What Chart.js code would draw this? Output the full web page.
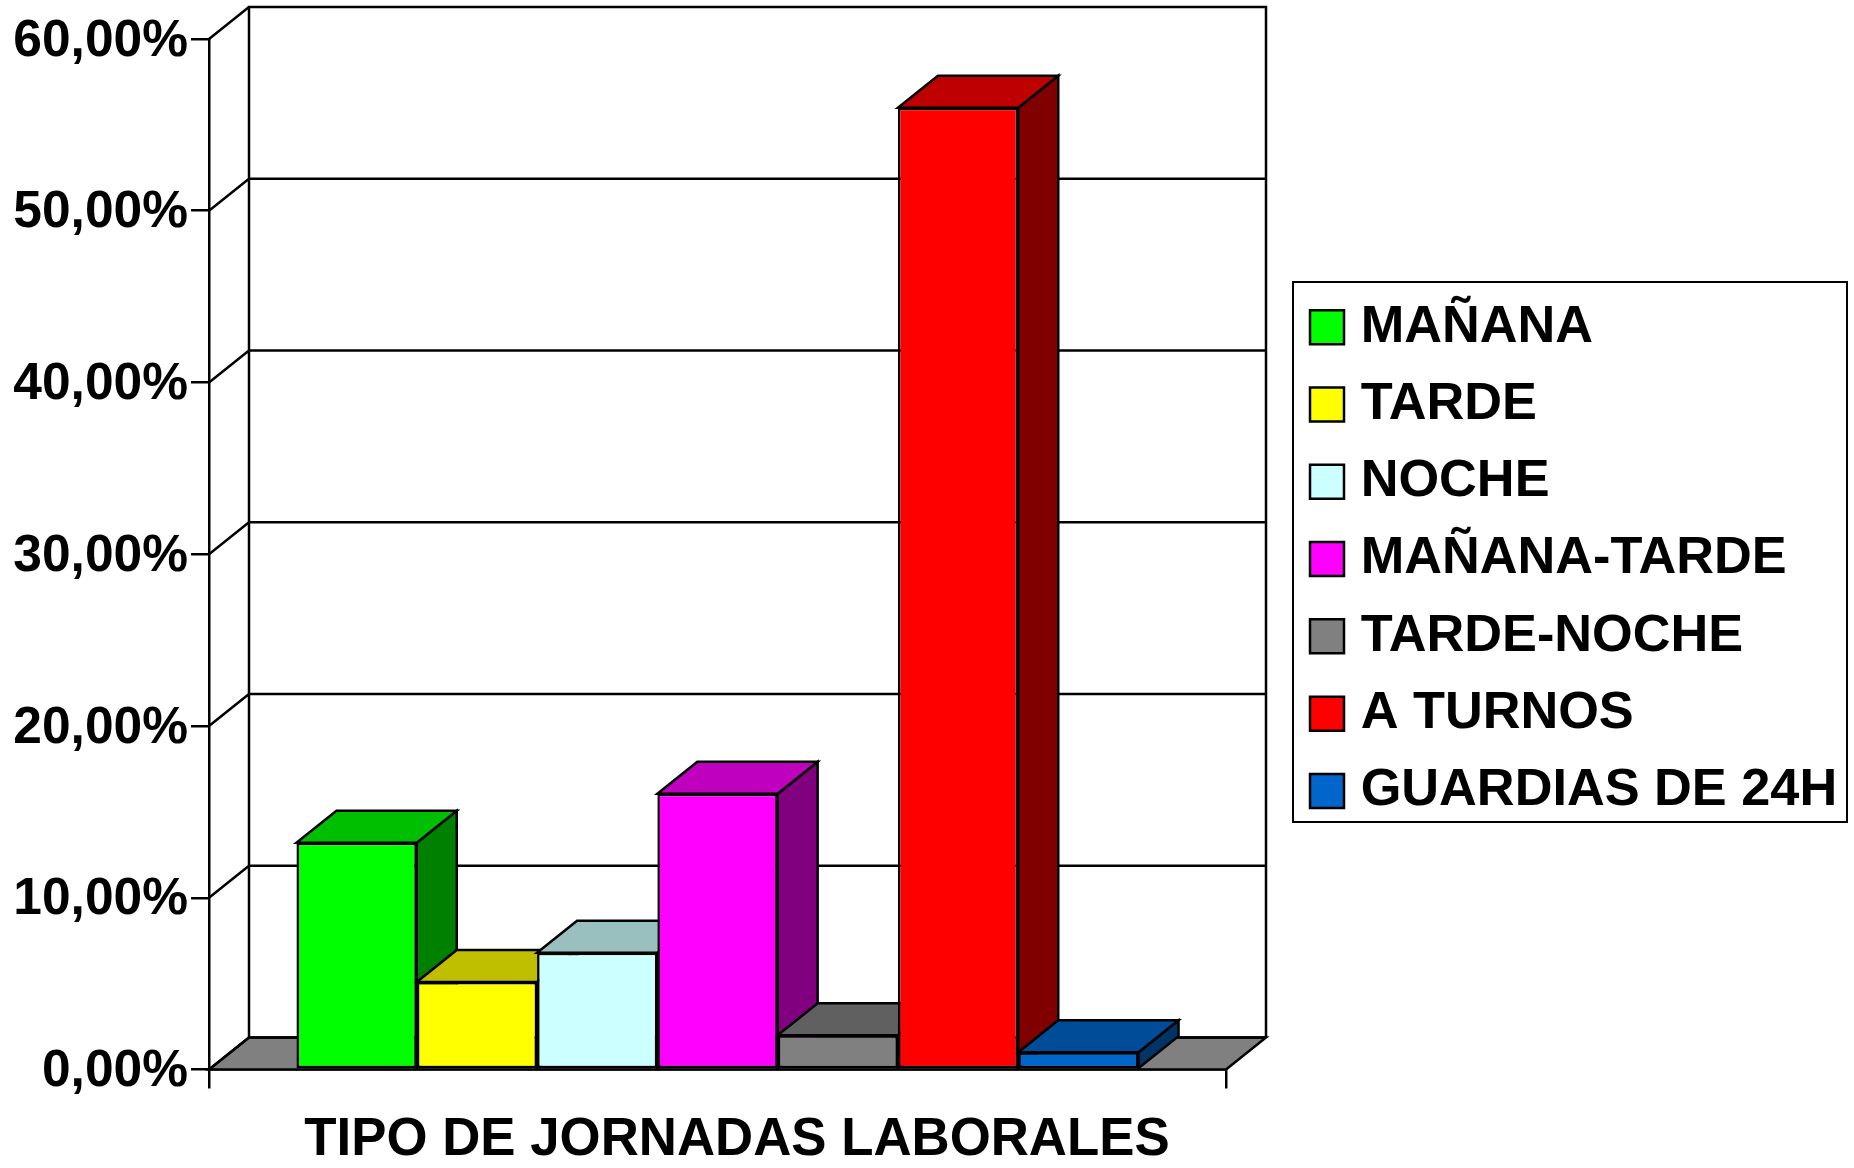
<!DOCTYPE html>
<html>
<head>
<meta charset="utf-8">
<title>Tipo de jornadas laborales</title>
<script src="https://cdn.jsdelivr.net/npm/chart.js@4"></script>
<style>
  html, body { margin: 0; padding: 0; background: #ffffff; }
  canvas { display: block; }
</style>
</head>
<body>
<canvas id="mainChart" width="1854" height="1168"></canvas>
<script>
// Values
const categories  = ['TIPO DE JORNADAS LABORALES'];
const seriesNames = ['MAÑANA', 'TARDE', 'NOCHE', 'MAÑANA-TARDE', 'TARDE-NOCHE', 'A TURNOS', 'GUARDIAS DE 24H'];
const seriesValues = [13.2, 5.1, 6.8, 16.05, 2.0, 56.0, 1.0];
const yTicks = [0, 10, 20, 30, 40, 50, 60];

// Face colours of each bar: front, top, side
const frontColors = ['#00ff00', '#ffff00', '#ccffff', '#ff00ff', '#808080', '#ff0000', '#0066cc'];
const topColors   = ['#00bf00', '#bfbf00', '#99bfbf', '#bf00bf', '#606060', '#bf0000', '#004c99'];
const sideColors  = ['#008000', '#808000', '#668080', '#800080', '#404040', '#800000', '#003366'];

const FONT  = 'Liberation Sans';
const DEPTH = { x: 40, y: 32 };
const LINE  = 2.5;

function fillFace(ctx, pts, color) {
  ctx.beginPath();
  ctx.moveTo(pts[0][0], pts[0][1]);
  pts.slice(1).forEach(p => ctx.lineTo(p[0], p[1]));
  ctx.closePath();
  ctx.fillStyle = color;
  ctx.fill();
  ctx.stroke();
}

// Floor, back wall and the 3D faces; the front faces come from Chart.js itself
const depthPlugin = {
  id: 'depth',
  afterLayout(chart) {
    // the legend sits outside the plot, at the right of the page
    const legend = chart.legend;
    const pad = legend.options.labels.padding;
    legend.left = 1319.5 - pad;
    legend.right = legend.left + legend.width;
    legend.top = 301 - pad;
    legend.bottom = legend.top + legend.height;
  },
  beforeDatasetsDraw(chart) {
    const { ctx, chartArea: a, scales: { y } } = chart;
    ctx.save();
    ctx.strokeStyle = '#000000';
    ctx.lineWidth = LINE;
    ctx.lineJoin = 'miter';

    // floor
    fillFace(ctx, [
      [a.left, a.bottom], [a.left + DEPTH.x, a.bottom - DEPTH.y],
      [a.right + DEPTH.x, a.bottom - DEPTH.y], [a.right, a.bottom],
    ], '#808080');

    // back wall outline, grid lines and their diagonals back to the axis
    ctx.beginPath();
    ctx.moveTo(a.left + DEPTH.x, a.bottom - DEPTH.y);
    ctx.lineTo(a.left + DEPTH.x, a.top - DEPTH.y);
    ctx.lineTo(a.right + DEPTH.x, a.top - DEPTH.y);
    ctx.lineTo(a.right + DEPTH.x, a.bottom - DEPTH.y);
    yTicks.forEach(v => {
      const py = y.getPixelForValue(v);
      ctx.moveTo(a.left, py);
      ctx.lineTo(a.left + DEPTH.x, py - DEPTH.y);
      ctx.lineTo(a.right + DEPTH.x, py - DEPTH.y);
    });
    ctx.stroke();

    // side and top of every bar, left to right so nearer bars cover the previous ones
    seriesNames.forEach((name, i) => {
      const bar = chart.getDatasetMeta(i).data[0];
      const l = bar.x - bar.width / 2;
      const r = bar.x + bar.width / 2;
      fillFace(ctx, [
        [r, bar.y], [r + DEPTH.x, bar.y - DEPTH.y],
        [r + DEPTH.x, bar.base - DEPTH.y], [r, bar.base],
      ], sideColors[i]);
      fillFace(ctx, [
        [l, bar.y], [l + DEPTH.x, bar.y - DEPTH.y],
        [r + DEPTH.x, bar.y - DEPTH.y], [r, bar.y],
      ], topColors[i]);
    });
    ctx.restore();
  },
  afterDraw(chart) {
    const { ctx } = chart;
    ctx.save();
    // legend frame
    ctx.strokeStyle = '#000000';
    ctx.lineWidth = 2;
    ctx.strokeRect(1293, 282, 554, 540);
    // axis title is centred on the whole 3D box, not on the front plane
    ctx.fillStyle = '#000000';
    ctx.font = `bold 52.8px "${FONT}"`;
    ctx.textAlign = 'center';
    ctx.textBaseline = 'alphabetic';
    ctx.fillText(categories[0], 737, 1155);
    ctx.restore();
  },
};

new Chart(document.getElementById('mainChart'), {
  type: 'bar',
  data: {
    labels: categories,
    datasets: seriesNames.map((name, i) => ({
      label:           name,
      data:            [seriesValues[i]],
      backgroundColor: frontColors[i],
      borderColor:     '#000000',
      borderWidth:     LINE,
      borderSkipped:   false,
    })),
  },
  options: {
    responsive: false,
    animation:  false,
    layout:     { padding: { top: 39, right: 628, bottom: 0, left: 0 } },
    categoryPercentage: 0.828,
    barPercentage:      1,
    plugins: {
      tooltip: { enabled: false },
      legend: {
        position: 'chartArea',
        align:    'start',
        labels: {
          color:         '#000000',
          font:          { family: FONT, size: 52.3, weight: 'bold' },
          usePointStyle: true,
          pointStyle:    'rect',
          boxWidth:      15,
          boxHeight:     34,
          padding:       25,
        },
      },
    },
    scales: {
      x: {
        afterFit: s => { s.height = 98.5; },
        ticks:  { display: false },
        border: { color: '#000000', width: LINE },
        grid:   { offset: true, drawOnChartArea: false, color: '#000000', lineWidth: LINE, tickLength: 19 },
      },
      y: {
        min: 0,
        max: 60,
        afterFit: s => { s.width = 209; },
        afterBuildTicks: s => { s.ticks = yTicks.map(v => ({ value: v })); },
        border: { color: '#000000', width: LINE },
        grid:   { drawOnChartArea: false, color: '#000000', lineWidth: LINE, tickLength: 18 },
        ticks: {
          color:       '#000000',
          padding:     3,
          labelOffset: 2.5,
          font:        { family: FONT, size: 51.5, weight: 'bold' },
          callback:    v => v.toFixed(2).replace('.', ',') + '%',
        },
      },
    },
  },
  plugins: [depthPlugin],
});
</script>
</body>
</html>
